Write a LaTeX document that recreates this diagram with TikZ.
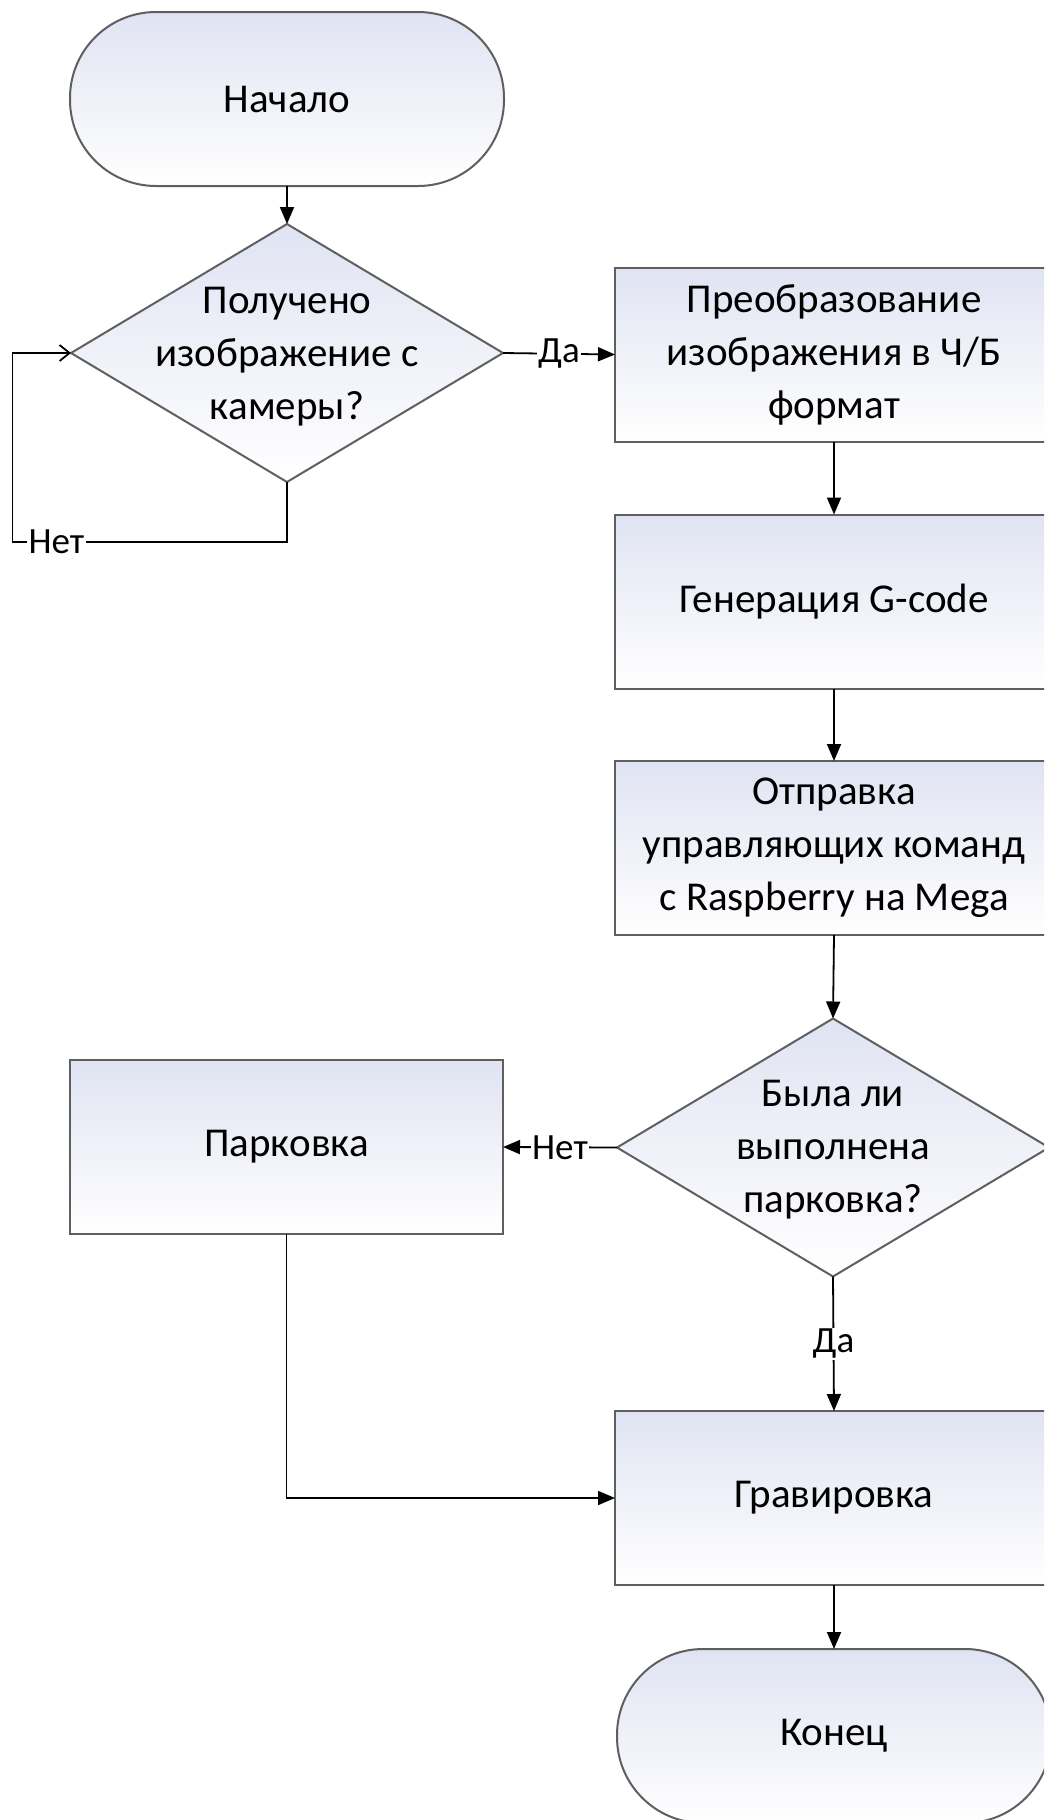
\documentclass[tikz,border=0pt]{standalone}
\usepackage{fontspec}
\setmainfont{Carlito}
\usetikzlibrary{shapes.geometric,arrows.meta}
\definecolor{lav}{RGB}{224,227,242}
\definecolor{bord}{RGB}{95,95,95}
\newcommand\mainfs{\fontsize{41}{53}\selectfont}
\newcommand\lblfs{\fontsize{37}{40}\selectfont}
\tikzset{
 base/.style={draw=bord, line width=2pt, shade, shading=axis, shading angle=45, top color=lav, bottom color=white, inner sep=0pt, outer sep=0pt},
 term/.style={base, rectangle, rounded corners=86pt, minimum width=434pt, minimum height=174pt, font=\mainfs},
 proc/.style={base, rectangle, minimum width=438pt, minimum height=174pt, align=center, font=\mainfs},
 dec/.style={base, diamond, minimum width=432pt, minimum height=258pt},
 txt/.style={align=center, font=\mainfs, inner sep=0pt},
 lbl/.style={fill=white, inner sep=1.5pt, font=\lblfs},
 conn/.style={draw=black, line width=1.8pt, -{Triangle[length=17pt,width=14pt]}},
 loopc/.style={draw=black, line width=1.8pt, -{Straight Barb[length=10pt,width=16pt]}},
}
\begin{document}
\begin{tikzpicture}[x=1pt,y=-1pt]
\path[use as bounding box, fill=white] (0,0) rectangle (1044,1820);
\clip (0,0) rectangle (1044,1820);

\node[term] (start) at (287,99) {Начало};
\node[dec] (d1) at (287,353) {};
\node[txt] (d1t) at (287,357) {Получено\\изображение с\\камеры?};

\node[proc] (b1) at (834,354.5) {Преобразование\\изображения в Ч/Б\\формат};
\node[proc] (b2) at (834,601.5) {Генерация G-code};
\node[proc] (b3) at (834,848) {Отправка\\управляющих команд\\с Raspberry на Mega};

\node[dec] (d2) at (833,1147.5) {};
\node[txt] (d2t) at (833,1150) {Была ли\\выполнена\\парковка?};

\node[proc, minimum width=433pt] (park) at (286.5,1147) {Парковка};
\node[proc] (grav) at (834,1498) {Гравировка};
\node[term] (end) at (834,1736) {Конец};

\coordinate (lp) at (12.5,542);

\draw[conn] (start.south) -- (d1.north);
\draw[loopc] (d1.south) |- node[lbl, pos=0.92] {Нет} (lp) |- (d1.west);
\draw[conn] (d1.east) -- node[lbl] {Да} (b1.west);
\draw[conn] (b1.south) -- (b2.north);
\draw[conn] (b2.south) -- (b3.north);
\draw[conn] (b3.south) -- (d2.north);
\draw[conn] (d2.west) -- node[lbl] {Нет} (park.east);
\draw[conn] (d2.south) -- node[lbl] {Да} (grav.north);
\draw[conn] (park.south) |- (grav.west);
\draw[conn] (grav.south) -- (end.north);
\end{tikzpicture}
\end{document}
